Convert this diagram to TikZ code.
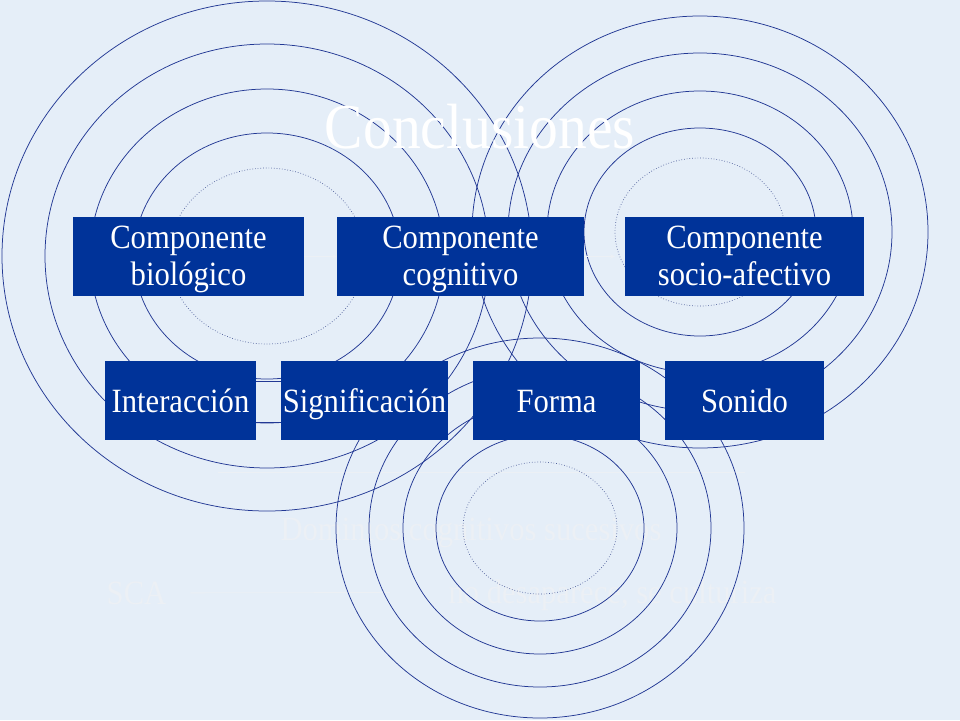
\documentclass[tikz,border=0pt]{standalone}
\usepackage{fontspec}
\setmainfont{Liberation Serif}[FakeStretch=0.9]
\usetikzlibrary{arrows}
\definecolor{slidebg}{RGB}{229,238,248}
\definecolor{boxblue}{RGB}{0,51,153}
\definecolor{ringblue}{RGB}{34,56,148}
\definecolor{dotblue}{RGB}{80,96,155}
\definecolor{ghostc}{RGB}{236,240,245}

\begin{document}
\begin{tikzpicture}[x=1pt,y=-1pt]
\begin{scope}
	\tikzstyle{every node}=[inner sep=0pt, align=center]
	\tikzstyle{ring}=[draw=ringblue, line width=0.75pt]
	\tikzstyle{inner ring}=[draw=dotblue, line width=0.7pt, dotted]
	\tikzstyle{comp}=[fill=boxblue, text=white, minimum height=79pt, font=\fontsize{34}{37}\selectfont]
	\tikzstyle{word}=[comp, text height=31pt, text depth=8pt]
	\tikzstyle{ghost}=[text=ghostc, anchor=base, font=\fontsize{34}{34}\selectfont]

	\fill[slidebg] (0,0) rectangle (960,720);
	\useasboundingbox (0,0) rectangle (960,720);

	\node[ghost] (dom) at (471,540) {Dominios cognitivos sucesivos};
	\node[ghost] (sca) at (136.5,604) {SCA};
	\node[ghost] (cult) at (612.5,603) {no desaparece, se culturiza};
	\coordinate (scaend) at (390,592.5);
	\coordinate (ga) at (218,472);
	\coordinate (gb) at (745,472);
	\draw [ghostc, line width=0.8pt, shorten <=24pt] (sca.east) -- (scaend);
	\draw [ghostc, line width=0.8pt] (ga) -- (gb);

	% left rings
	\draw[inner ring] (267,256) ellipse [x radius=98, y radius=88];
	\draw[ring] (267,256) ellipse [x radius=133, y radius=123];
	\draw[ring] (267,256) ellipse [x radius=177, y radius=167];
	\draw[ring] (267,256) ellipse [x radius=222, y radius=212];
	\draw[ring] (267,256) ellipse [x radius=265, y radius=255];
	% right rings
	\draw[inner ring] (700,232) ellipse [x radius=85, y radius=74];
	\draw[ring] (700,232) ellipse [x radius=116, y radius=104];
	\draw[ring] (700,232) ellipse [x radius=153, y radius=141];
	\draw[ring] (700,232) ellipse [x radius=192, y radius=179];
	\draw[ring] (700,232) ellipse [x radius=228, y radius=216];
	% bottom rings
	\draw[inner ring] (540,528) ellipse [x radius=77, y radius=66];
	\draw[ring] (540,528) ellipse [x radius=104, y radius=93];
	\draw[ring] (540,528) ellipse [x radius=137, y radius=126];
	\draw[ring] (540,528) ellipse [x radius=171, y radius=159];
	\draw[ring] (540,528) ellipse [x radius=204, y radius=190];

	\node[text=white, anchor=base, font=\fontsize{64}{64}\selectfont] (title) at (480,148) {Conclusiones};

	\node[comp, minimum width=231pt] (bio) at (188.5,256.5) {\rule{0pt}{28pt}Componente\hspace{12pt}\\biológico\rule[-8pt]{0pt}{8pt}};
	\node[comp, minimum width=247pt] (cog) at (460.5,256.5) {\rule{0pt}{28pt}Componente\hspace{12pt}\\cognitivo\rule[-8pt]{0pt}{8pt}};
	\node[comp, minimum width=239pt] (soc) at (744.5,256.5) {\rule{0pt}{28pt}Componente\hspace{12pt}\\socio-afectivo\rule[-8pt]{0pt}{8pt}};

	\node[word, minimum width=151pt] (inter) at (180.5,400.5) {Interacción};
	\node[word, minimum width=167pt] (sig) at (364.5,400.5) {Significación};
	\node[word, minimum width=167pt] (forma) at (556.5,400.5) {Forma};
	\node[word, minimum width=159pt] (sonido) at (744.5,400.5) {Sonido};

	\draw [ghostc, line width=1.0pt][-stealth] (bio) -- (cog);
	\draw [ghostc, line width=1.0pt][-stealth, shorten >=10pt] (cog) -- (soc);
	\draw [ringblue, line width=0.8pt] ([yshift=19.5pt]inter.east) -- ([yshift=19.5pt]sig.west);
	\draw [ringblue, line width=0.8pt] ([yshift=-21.5pt]inter.east) -- ([yshift=-21.5pt]sig.west);
\end{scope}
\end{tikzpicture}
\end{document}
